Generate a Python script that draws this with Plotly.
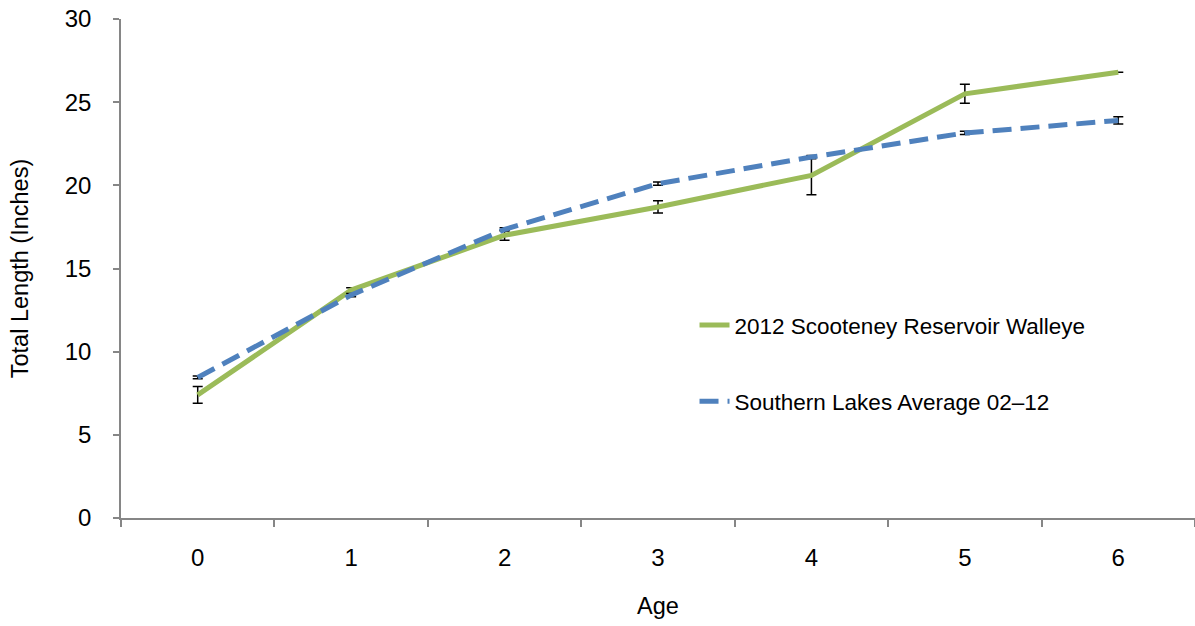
import plotly.graph_objects as go

# Age classes and mean total length (inches) for each series
ages = ["0", "1", "2", "3", "4", "5", "6"]

scooteney_len = [7.4, 13.7, 17.0, 18.7, 20.6, 25.5, 26.8]
scooteney_err = [0.5, 0.15, 0.3, 0.37, 1.17, 0.57, 0.0]

southern_len = [8.45, 13.4, 17.35, 20.1, 21.7, 23.15, 23.9]
southern_err = [0.08, 0.1, 0.1, 0.1, 0.1, 0.1, 0.22]

FONT = "Liberation Sans, Arial, sans-serif"
AXIS_GREY = "#868686"

fig = go.Figure()

fig.add_trace(go.Scatter(
    x=ages, y=scooteney_len,
    mode="lines",
    name="2012 Scooteney Reservoir Walleye",
    legendgroup="a",
    line=dict(color="#9BBB59", width=5),
    error_y=dict(type="data", array=scooteney_err, visible=True,
                 color="black", thickness=1.5, width=5),
))

fig.add_trace(go.Scatter(
    x=ages, y=southern_len,
    mode="lines",
    name="Southern Lakes Average 02\u201312",
    legendgroup="b",
    line=dict(color="#4F81BD", width=5, dash="19px,9px"),
    error_y=dict(type="data", array=southern_err, visible=True,
                 color="black", thickness=1.5, width=5),
))

fig.update_layout(
    width=1195, height=626,
    margin=dict(l=121, r=0, t=19, b=108),
    paper_bgcolor="white", plot_bgcolor="white",
    font=dict(family=FONT, size=23, color="black"),
    showlegend=True,
    legend=dict(
        x=0.534, y=0.31, xanchor="left", yanchor="middle",
        font=dict(family=FONT, size=22.5, color="black"),
        tracegroupgap=44, traceorder="grouped",
        bgcolor="rgba(0,0,0,0)",
    ),
    xaxis=dict(
        type="category",
        range=[-0.5, 6.5],
        showgrid=False, zeroline=False,
        showline=True, linecolor=AXIS_GREY, linewidth=1.5,
        ticks="outside", tickson="boundaries", ticklen=7,
        tickcolor=AXIS_GREY, tickwidth=1.5,
        tickfont=dict(size=24),
        ticklabelstandoff=17,
        title=dict(text="Age", standoff=28, font=dict(size=23.5)),
    ),
    yaxis=dict(
        range=[0, 30],
        tickvals=[0, 5, 10, 15, 20, 25, 30],
        showgrid=False, zeroline=False,
        showline=True, linecolor=AXIS_GREY, linewidth=1.5,
        ticks="outside", ticklen=6, tickcolor=AXIS_GREY, tickwidth=1.5,
        tickfont=dict(size=24),
        ticklabelstandoff=17,
        title=dict(text="Total Length (Inches)", standoff=30, font=dict(size=23.5)),
    ),
)

fig.write_html("out.html")
